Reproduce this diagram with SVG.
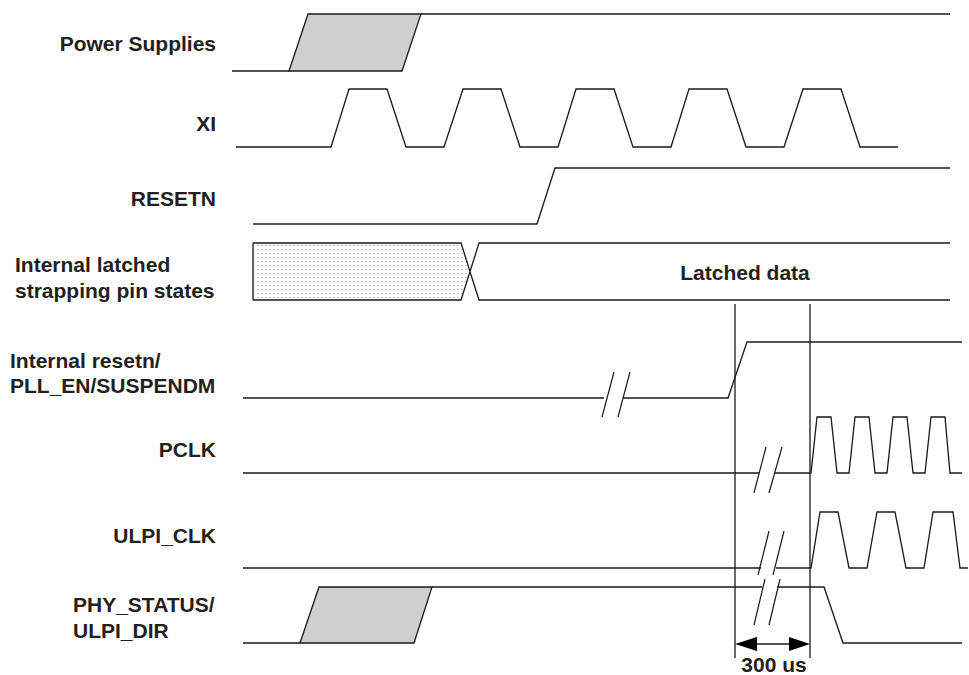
<svg xmlns="http://www.w3.org/2000/svg" width="969" height="675" viewBox="0 0 969 675">
<style>
.sig{fill:none;stroke:#1a1a1a;stroke-width:1.3;stroke-linejoin:miter}
.gray{fill:#cfcfcf;stroke:#1a1a1a;stroke-width:1.3}
.lbl{font-family:"Liberation Sans",Arial,sans-serif;font-weight:bold;font-size:21px;fill:#231f20}
.r{text-anchor:end}
.m{text-anchor:middle}
.brk{fill:none;stroke:#1a1a1a;stroke-width:1.2}
</style>
<defs>
<pattern id="dots" width="4" height="4" patternUnits="userSpaceOnUse">
<rect width="4" height="4" fill="#ffffff"/>
<rect x="1" y="1" width="1.5" height="1" fill="#bdbdbd"/>
</pattern>
</defs>
<rect width="969" height="675" fill="#ffffff"/>

<g id="power-supplies">
<text class="lbl r" x="216" y="51">Power Supplies</text>
<polygon class="gray" points="289,71 308,14 421,14 402,71"/>
<path class="sig" d="M232,71 L289,71 M421,14 L950,14"/>
</g>

<g id="xi">
<text class="lbl r" x="216" y="131">XI</text>
<path class="sig" d="M236,147 L331,147 L349,89 L387,89 L406,147 L444,147 L463,89 L501,89 L520,147 L558,147 L576,89 L614,89 L633,147 L671,147 L689,89 L727,89 L746,147 L784,147 L803,89 L841,89 L860,147 L898,147"/>
</g>

<g id="resetn">
<text class="lbl r" x="216" y="206">RESETN</text>
<path class="sig" d="M253,224 L537,224 L555,168 L950,168"/>
</g>

<g id="latched-states">
<text class="lbl" x="15" y="272">Internal latched</text>
<text class="lbl" x="15" y="298">strapping pin states</text>
<polygon points="253,243 461,243 470,271.5 461,300 253,300" fill="url(#dots)" stroke="none"/>
<path class="sig" d="M253,243 L461,243 L479,300 L950,300 M253,300 L461,300 L479,243 L950,243 M253,243 L253,300"/>
<text class="lbl m" x="745" y="280">Latched data</text>
</g>

<g id="internal-resetn">
<text class="lbl" x="10" y="368">Internal resetn/</text>
<text class="lbl" x="10" y="393">PLL_EN/SUSPENDM</text>
<path class="sig" d="M243,398 L604,398 M623,398 L728,398 L747,342 L962,342"/>
<path class="brk" d="M602,417 L614,372 M618,417 L630,372"/>
</g>

<g id="pclk">
<text class="lbl r" x="216" y="457">PCLK</text>
<path class="sig" d="M243,473 L759,473 M775,473 L811,473 L817,417 L831,417 L837,473 L849,473 L855,417 L869,417 L875,473 L887,473 L893,417 L907,417 L913,473 L925,473 L931,417 L945,417 L950,473 L962,473"/>
<path class="brk" d="M754,493 L766,447 M769,493 L782,447"/>
</g>

<g id="ulpi-clk">
<text class="lbl r" x="216" y="543">ULPI_CLK</text>
<path class="sig" d="M243,568 L761,568 M776,568 L811,568 L820,512 L838,512 L849,568 L867,568 L877,512 L895,512 L906,568 L924,568 L933,512 L953,512 L960,568 L968,568"/>
<path class="brk" d="M758,575 L769,531 M773,575 L784,531"/>
</g>

<g id="phy-status">
<text class="lbl" x="73" y="612">PHY_STATUS/</text>
<text class="lbl" x="73" y="638">ULPI_DIR</text>
<polygon class="gray" points="300,643 319,587 432,587 414,643"/>
<path class="sig" d="M243,643 L300,643 M432,587 L762,587 M777,587 L824,587 L843,643 L962,643"/>
<path class="brk" d="M754,625 L765,579 M769,625 L780,579"/>
</g>

<g id="connectors">
<path class="sig" d="M735,304 L735,658 M810,304 L810,658"/>
<path class="sig" d="M750,644 L796,644"/>
<polygon points="735,644 757,637 757,651" fill="#000"/>
<polygon points="810,644 789,637 789,651" fill="#000"/>
<text class="lbl m" x="774" y="672">300 us</text>
</g>
</svg>
